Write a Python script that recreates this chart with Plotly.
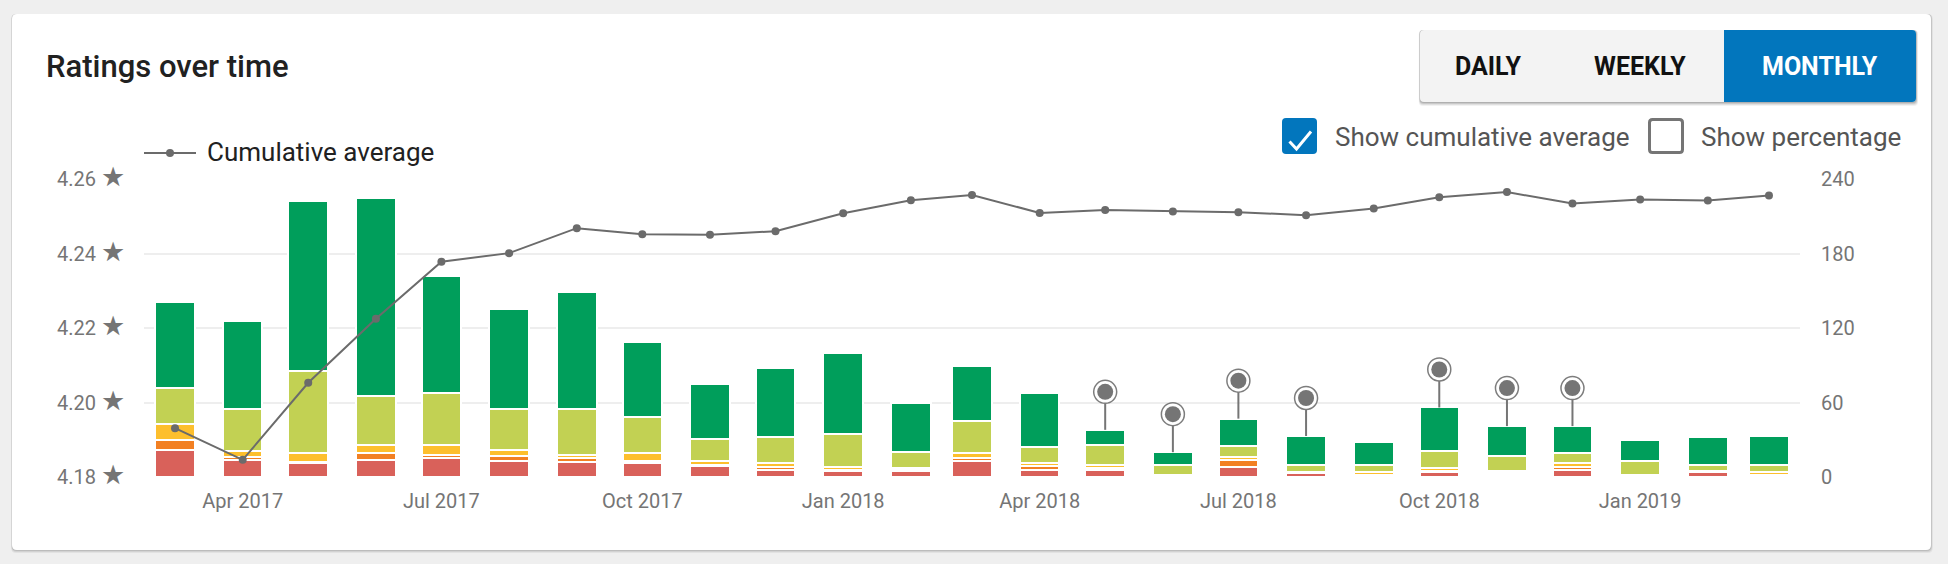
import plotly.graph_objects as go

# ---------------- data ----------------
months = [
    "2017-03-01", "2017-04-01", "2017-05-01", "2017-06-01", "2017-07-01",
    "2017-08-01", "2017-09-01", "2017-10-01", "2017-11-01", "2017-12-01",
    "2018-01-01", "2018-02-01", "2018-03-01", "2018-04-01", "2018-05-01",
    "2018-06-01", "2018-07-01", "2018-08-01", "2018-09-01", "2018-10-01",
    "2018-11-01", "2018-12-01", "2019-01-01", "2019-02-01", "2019-03-01",
]
one_star = [22, 14, 11, 14, 15, 13, 12, 11, 9, 6, 5, 5, 13, 6, 6, 1, 8, 3, 1, 4, 2, 6, 0, 4, 1]
two_star = [8, 2, 1, 5, 3, 4, 3, 2, 1, 2, 1, 1, 2, 3, 1, 1, 6, 0, 1, 1, 1, 2, 1, 0, 1]
three_star = [13, 5, 7, 7, 8, 5, 3, 6, 3, 3, 2, 1, 4, 2, 3, 0, 2, 1, 2, 2, 2, 3, 1, 1, 2]
four_star = [29, 34, 66, 39, 42, 33, 37, 29, 18, 21, 27, 13, 26, 13, 16, 8, 9, 6, 6, 14, 12, 8, 11, 5, 6]
five_star = [69, 71, 137, 160, 94, 80, 94, 61, 44, 56, 65, 40, 44, 44, 12, 10, 22, 23, 18, 35, 24, 22, 17, 22, 23]
cumulative_avg = [4.1931, 4.1846, 4.2053, 4.2225, 4.2378, 4.2401, 4.2468, 4.2452, 4.2450,
                  4.2460, 4.2508, 4.2543, 4.2557, 4.2509, 4.2517, 4.2513, 4.2511, 4.2503,
                  4.2521, 4.2551, 4.2565, 4.2534, 4.2545, 4.2542, 4.2556]
event_months = ["2018-05-01", "2018-06-01", "2018-07-01", "2018-08-01",
                "2018-10-01", "2018-11-01", "2018-12-01"]
star_names = ["1 star", "2 stars", "3 stars", "4 stars", "5 stars"]
star_colors = ["#d9615a", "#f28023", "#fdbf2d", "#c2d153", "#009e5b"]
count_ticks = [0, 60, 120, 180, 240]
avg_range = [4.18, 4.26]

# ---------------- geometry ----------------
W, H = 1948, 564
ML, MR, MT, MB = 144, 148, 179, 87
PW, PH = W - ML - MR, H - MT - MB
FONT = "Roboto, 'Noto Sans', sans-serif"


def px(x):
    return (x - ML) / PW


def py(y):
    return (H - MB - y) / PH


def rrect(x0, y0, x1, y1, r, rl=True, rr=True):
    a = r if rl else 0
    b = r if rr else 0
    return (f"M{px(x0 + a)},{py(y0)} L{px(x1 - b)},{py(y0)} "
            f"Q{px(x1)},{py(y0)} {px(x1)},{py(y0 + b)} "
            f"L{px(x1)},{py(y1 - b)} Q{px(x1)},{py(y1)} {px(x1 - b)},{py(y1)} "
            f"L{px(x0 + a)},{py(y1)} Q{px(x0)},{py(y1)} {px(x0)},{py(y1 - a)} "
            f"L{px(x0)},{py(y0 + a)} Q{px(x0)},{py(y0)} {px(x0 + a)},{py(y0)} Z")


fig = go.Figure()

DAY_MS = 86400000
bar_w = 18.1 * DAY_MS
series = [one_star, two_star, three_star, four_star, five_star]
for name, vals, col in zip(star_names, series, star_colors):
    fig.add_trace(go.Bar(
        x=months, y=vals, name=name, yaxis="y",
        width=[bar_w] * len(months),
        marker=dict(color=col, line=dict(color="white", width=2)),
        showlegend=False, hoverinfo="x+y+name",
    ))

totals = [sum(v) for v in zip(*series)]
pin_offset = 38 * (count_ticks[-1] - count_ticks[0]) / PH
pin_y = [totals[months.index(m)] + pin_offset for m in event_months]
n_ev = len(event_months)
fig.add_trace(go.Scatter(
    x=event_months, y=pin_y, mode="markers", yaxis="y", showlegend=False,
    marker=dict(size=23, color="white", line=dict(color="#7d7d7d", width=1.5)),
    error_y=dict(type="data", symmetric=False, array=[0] * n_ev,
                 arrayminus=[pin_offset] * n_ev, color="#757575",
                 thickness=2, width=0),
    hoverinfo="skip",
))
fig.add_trace(go.Scatter(
    x=event_months, y=pin_y, mode="markers", yaxis="y", showlegend=False,
    marker=dict(size=16, color="#757575"), hoverinfo="skip",
))

fig.add_trace(go.Scatter(
    x=months, y=cumulative_avg, name="Cumulative average", yaxis="y2",
    mode="lines+markers", line=dict(color="#6b6b6b", width=2),
    marker=dict(size=8, color="#6b6b6b"), showlegend=False,
))

tickfont = dict(family=FONT, size=20, color="#757575")

shapes = []
# card shadow + card
for d, op in [(3, 0.05), (2, 0.07), (1, 0.10)]:
    shapes.append(dict(type="path", xref="paper", yref="paper", layer="below",
                       path=rrect(12 - d * 0.3, 14, 1931 + d * 0.6, 550 + d, 5),
                       fillcolor=f"rgba(0,0,0,{op})", line=dict(width=0)))
shapes.append(dict(type="path", xref="paper", yref="paper", layer="below",
                   path=rrect(12, 14, 1931, 550, 5),
                   fillcolor="white", line=dict(width=0)))
# button group shadow
for d, op in [(4, 0.05), (3, 0.07), (2, 0.10), (1, 0.12)]:
    shapes.append(dict(type="path", xref="paper", yref="paper", layer="above",
                       path=rrect(1420 - d * 0.3, 30, 1916 + d * 0.5, 102 + d, 4),
                       fillcolor=f"rgba(0,0,0,{op})", line=dict(width=0)))
shapes.append(dict(type="path", xref="paper", yref="paper", layer="above",
                   path=rrect(1420, 30, 1916, 102, 4),
                   fillcolor="#f3f3f3", line=dict(width=0)))
shapes.append(dict(type="path", xref="paper", yref="paper", layer="above",
                   path=rrect(1724, 30, 1916, 102, 4, rl=False),
                   fillcolor="#0276bd", line=dict(width=0)))
# checked box
shapes.append(dict(type="path", xref="paper", yref="paper", layer="above",
                   path=rrect(1282, 118, 1317, 154, 4),
                   fillcolor="#0276bd", line=dict(width=0)))
shapes.append(dict(type="path", xref="paper", yref="paper", layer="above",
                   path=f"M{px(1289.5)},{py(141.5)} L{px(1296.5)},{py(149)} L{px(1311)},{py(131.5)}",
                   line=dict(color="white", width=3)))
# unchecked box
shapes.append(dict(type="path", xref="paper", yref="paper", layer="above",
                   path=rrect(1649.5, 119.5, 1682.5, 152.5, 3),
                   fillcolor="white", line=dict(color="#757575", width=3)))
# legend symbol
shapes.append(dict(type="line", xref="paper", yref="paper", layer="above",
                   x0=px(144), x1=px(196), y0=py(153), y1=py(153),
                   line=dict(color="#6b6b6b", width=2)))
shapes.append(dict(type="circle", xref="paper", yref="paper", layer="above",
                   x0=px(166), x1=px(174), y0=py(149), y1=py(157),
                   fillcolor="#6b6b6b", line=dict(width=0)))

annotations = [
    dict(text="Ratings over time", x=px(44), y=py(66), xref="paper", yref="paper",
         xanchor="left", yanchor="middle", showarrow=False,
         font=dict(family=FONT, size=31, color="#212121", weight=500)),
    dict(text="Cumulative average", x=px(205), y=py(152), xref="paper", yref="paper",
         xanchor="left", yanchor="middle", showarrow=False,
         font=dict(family=FONT, size=26, color="#212121")),
    dict(text="Show cumulative average", x=px(1333), y=py(137), xref="paper", yref="paper",
         xanchor="left", yanchor="middle", showarrow=False,
         font=dict(family=FONT, size=26, color="#555555")),
    dict(text="Show percentage", x=px(1699), y=py(137), xref="paper", yref="paper",
         xanchor="left", yanchor="middle", showarrow=False,
         font=dict(family=FONT, size=26, color="#555555")),
    dict(text="DAILY", x=px(1488), y=py(66), xref="paper", yref="paper",
         xanchor="center", yanchor="middle", showarrow=False,
         font=dict(family=FONT, size=25, color="#111111", weight=700)),
    dict(text="WEEKLY", x=px(1639.5), y=py(66), xref="paper", yref="paper",
         xanchor="center", yanchor="middle", showarrow=False,
         font=dict(family=FONT, size=25, color="#111111", weight=700)),
    dict(text="MONTHLY", x=px(1820), y=py(66), xref="paper", yref="paper",
         xanchor="center", yanchor="middle", showarrow=False,
         font=dict(family=FONT, size=25, color="white", weight=700)),
]

fig.update_layout(
    width=W, height=H,
    margin=dict(l=ML, r=MR, t=MT, b=MB, pad=0),
    paper_bgcolor="#efefef", plot_bgcolor="rgba(0,0,0,0)",
    barmode="stack", bargap=0,
    showlegend=False,
    xaxis=dict(type="date", range=["2017-02-14 19:00", "2019-03-15 05:00"],
               dtick="M3", tick0="2017-01-01", tickformat="%b %Y",
               showgrid=False, zeroline=False, showline=False, ticks="",
               tickfont=tickfont, ticklabelstandoff=10),
    yaxis=dict(range=[count_ticks[0], count_ticks[-1]], tickvals=count_ticks,
               side="right", showgrid=True, gridcolor="#eeeeee", gridwidth=2,
               zeroline=False, showline=False, ticks="",
               tickfont=tickfont, ticklabelstandoff=20),
    yaxis2=dict(range=avg_range, dtick=0.02, tick0=4.18, tickformat=".2f",
                ticksuffix=" <span style='font-size:27px'>★</span>",
                overlaying="y", side="left",
                showgrid=False, zeroline=False, showline=False, ticks="",
                tickfont=tickfont, ticklabelstandoff=18),
    shapes=shapes, annotations=annotations,
)

fig.write_html("out.html")
